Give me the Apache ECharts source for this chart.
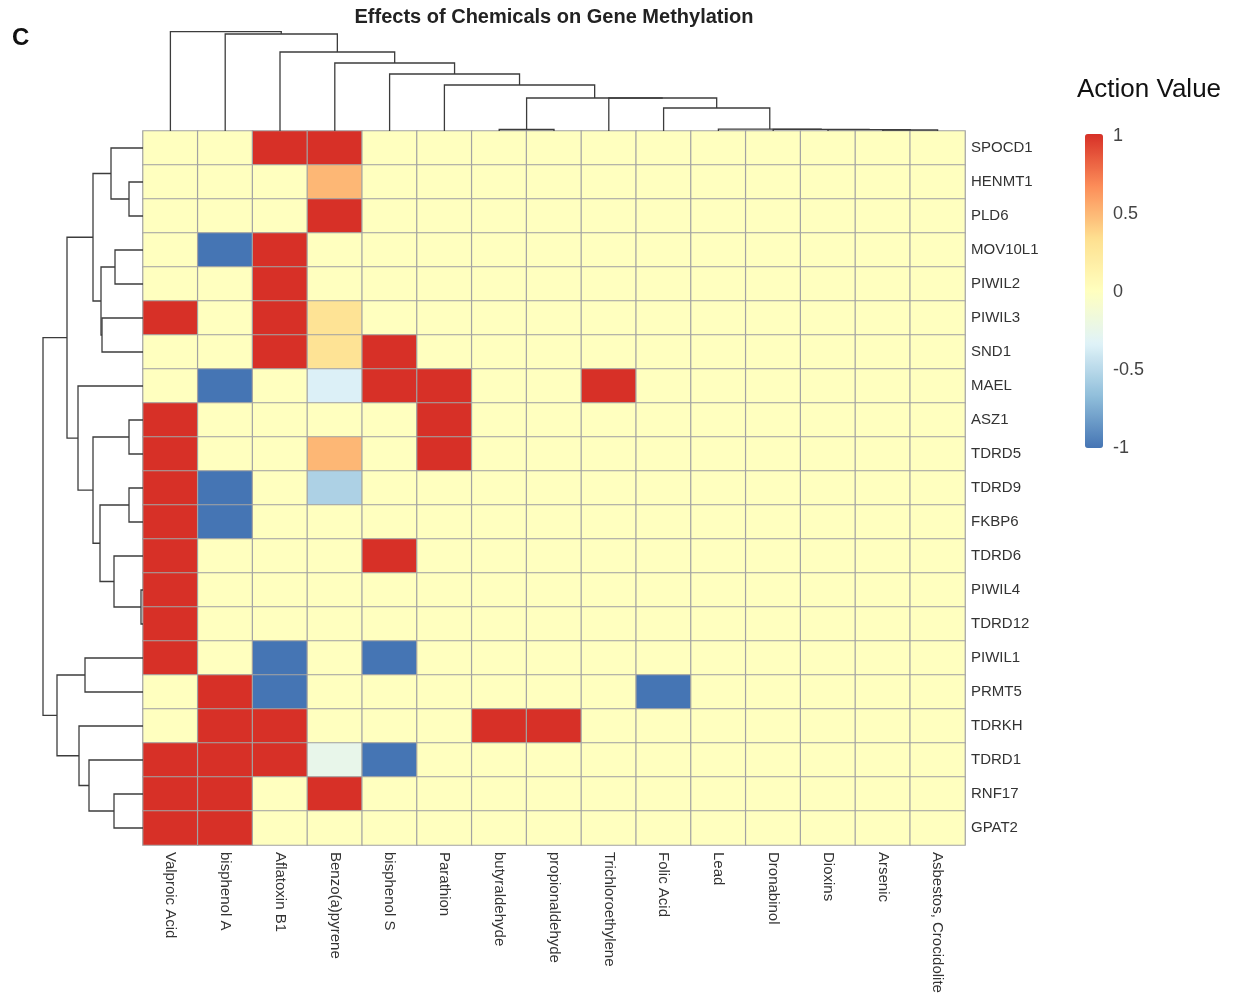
<!DOCTYPE html>
<html>
<head>
<meta charset="utf-8">
<script src="https://cdn.jsdelivr.net/npm/echarts@6/dist/echarts.min.js"></script>
<style>
  html, body { margin: 0; padding: 0; background: #ffffff; }
  #chart { width: 1234px; height: 993px; }
</style>
</head>
<body>
<div id="chart"></div>
<script>
// Chemicals (columns, in dendrogram order)
const chemicals = [
  'Valproic Acid', 'bisphenol A', 'Aflatoxin B1', 'Benzo(a)pyrene', 'bisphenol S',
  'Parathion', 'butyraldehyde', 'propionaldehyde', 'Trichloroethylene', 'Folic Acid',
  'Lead', 'Dronabinol', 'Dioxins', 'Arsenic', 'Asbestos, Crocidolite'
];

// Genes (rows, top to bottom)
const genes = [
  'SPOCD1', 'HENMT1', 'PLD6', 'MOV10L1', 'PIWIL2', 'PIWIL3', 'SND1', 'MAEL',
  'ASZ1', 'TDRD5', 'TDRD9', 'FKBP6', 'TDRD6', 'PIWIL4', 'TDRD12', 'PIWIL1',
  'PRMT5', 'TDRKH', 'TDRD1', 'RNF17', 'GPAT2'
];

// Action value per gene, one entry per chemical in the order above
const actionValues = [
  [0, 0, 1, 1, 0, 0, 0, 0, 0, 0, 0, 0, 0, 0, 0],        // SPOCD1
  [0, 0, 0, 0.5, 0, 0, 0, 0, 0, 0, 0, 0, 0, 0, 0],      // HENMT1
  [0, 0, 0, 1, 0, 0, 0, 0, 0, 0, 0, 0, 0, 0, 0],        // PLD6
  [0, -1, 1, 0, 0, 0, 0, 0, 0, 0, 0, 0, 0, 0, 0],       // MOV10L1
  [0, 0, 1, 0, 0, 0, 0, 0, 0, 0, 0, 0, 0, 0, 0],        // PIWIL2
  [1, 0, 1, 0.3, 0, 0, 0, 0, 0, 0, 0, 0, 0, 0, 0],      // PIWIL3
  [0, 0, 1, 0.3, 1, 0, 0, 0, 0, 0, 0, 0, 0, 0, 0],      // SND1
  [0, -1, 0, -0.35, 1, 1, 0, 0, 1, 0, 0, 0, 0, 0, 0],   // MAEL
  [1, 0, 0, 0, 0, 1, 0, 0, 0, 0, 0, 0, 0, 0, 0],        // ASZ1
  [1, 0, 0, 0.5, 0, 1, 0, 0, 0, 0, 0, 0, 0, 0, 0],      // TDRD5
  [1, -1, 0, -0.55, 0, 0, 0, 0, 0, 0, 0, 0, 0, 0, 0],   // TDRD9
  [1, -1, 0, 0, 0, 0, 0, 0, 0, 0, 0, 0, 0, 0, 0],       // FKBP6
  [1, 0, 0, 0, 1, 0, 0, 0, 0, 0, 0, 0, 0, 0, 0],        // TDRD6
  [1, 0, 0, 0, 0, 0, 0, 0, 0, 0, 0, 0, 0, 0, 0],        // PIWIL4
  [1, 0, 0, 0, 0, 0, 0, 0, 0, 0, 0, 0, 0, 0, 0],        // TDRD12
  [1, 0, -1, 0, -1, 0, 0, 0, 0, 0, 0, 0, 0, 0, 0],      // PIWIL1
  [0, 1, -1, 0, 0, 0, 0, 0, 0, -1, 0, 0, 0, 0, 0],      // PRMT5
  [0, 1, 1, 0, 0, 0, 1, 1, 0, 0, 0, 0, 0, 0, 0],        // TDRKH
  [1, 1, 1, -0.25, -1, 0, 0, 0, 0, 0, 0, 0, 0, 0, 0],   // TDRD1
  [1, 1, 0, 1, 0, 0, 0, 0, 0, 0, 0, 0, 0, 0, 0],        // RNF17
  [1, 1, 0, 0, 0, 0, 0, 0, 0, 0, 0, 0, 0, 0, 0]         // GPAT2
];

// Diverging palette, from -1 (blue) through 0 (pale yellow) to 1 (red)
const palette = ['#4575B4', '#91BFDB', '#E0F3F8', '#FFFFBF', '#FEE090', '#FC8D59', '#D73027'];

// Colour-scale range and tick step
const scaleMin = -1;
const scaleMax = 1;
const scaleStep = 0.5;

// Column clustering (hclust style): leaf i is -(i+1), a positive number refers to an earlier merge (1-based)
const columnMerges = [
  [-14, -15], [-13, 1], [-12, 2], [-11, 3], [-7, -8], [-10, 4], [-9, 6],
  [5, 7], [-6, 8], [-5, 9], [-4, 10], [-3, 11], [-2, 12], [-1, 13]
];
const columnHeights = [1.0, 1.3, 1.6, 1.9, 1.5, 23, 33, 33, 46, 57, 68, 79, 97, 99.3];

// Row clustering, same encoding
const rowMerges = [
  [-14, -15], [-2, -3], [-9, -10], [-11, -12], [-4, -5], [-13, 1], [-20, -21],
  [-1, 2], [-6, -7], [5, 9], [4, 6], [8, 10], [3, 11], [-19, 7], [-16, -17],
  [-18, 14], [-8, 13], [12, 17], [15, 16], [18, 19]
];
const rowHeights = [2, 14, 14, 14, 28, 29, 29, 32, 41, 42, 43, 50, 50, 54, 58, 64, 65, 76, 86, 100];

// Turn a merge list into elbow polylines: [position, height] points
function dendrogramPaths(merges, heights) {
  const centers = [];
  const node = (ref) => ref < 0
    ? { p: -ref - 1 + 0.5, h: 0 }
    : { p: centers[ref - 1], h: heights[ref - 1] };
  return merges.map(([a, b], i) => {
    const A = node(a), B = node(b), h = heights[i];
    centers.push((A.p + B.p) / 2);
    return [[A.p, A.h], [A.p, h], [B.p, h], [B.p, B.h]];
  });
}

const heatData = [];
actionValues.forEach((row, r) => row.forEach((v, c) => heatData.push([c, r, v])));

const colPaths = dendrogramPaths(columnMerges, columnHeights);
const rowPaths = dendrogramPaths(rowMerges, rowHeights).map(path => path.map(([p, h]) => [h, p]));

const FONT = '"Liberation Sans", Arial, Helvetica, sans-serif';
const dendroLine = { color: '#3c3c3c', width: 1.3, opacity: 1 };

const chart = echarts.init(document.getElementById('chart'), null, { renderer: 'canvas' });

chart.setOption({
  backgroundColor: '#ffffff',
  animation: false,
  textStyle: { fontFamily: FONT },
  graphic: [
    {
      type: 'text', left: 12, top: 26,
      style: { text: 'C', font: 'bold 24px ' + FONT, fill: '#111' }
    },
    {
      type: 'text', x: 554, y: 17,
      style: {
        text: 'Effects of Chemicals on Gene Methylation',
        font: 'bold 20px ' + FONT, fill: '#222', textAlign: 'center', textVerticalAlign: 'middle'
      }
    },
    {
      type: 'text', x: 1077, y: 90,
      style: {
        text: 'Action Value', font: '26px ' + FONT, fill: '#111',
        textAlign: 'left', textVerticalAlign: 'middle'
      }
    }
  ],
  grid: [
    { left: 143, top: 131, width: 822, height: 714, outerBoundsMode: 'none' },   // heatmap
    { left: 143, top: 31, width: 822, height: 100, outerBoundsMode: 'none' },    // column dendrogram
    { left: 43, top: 131, width: 100, height: 714, outerBoundsMode: 'none' },    // row dendrogram
    { left: 1085, top: 136, width: 18, height: 312, outerBoundsMode: 'none' }    // colour-scale ticks
  ],
  xAxis: [
    {
      type: 'category', gridIndex: 0, data: chemicals, position: 'bottom',
      axisLine: { show: false }, axisTick: { show: false }, splitLine: { show: false },
      axisLabel: { rotate: -90, interval: 0, margin: 7, fontSize: 15, color: '#333', fontFamily: FONT }
    },
    { type: 'value', gridIndex: 1, min: 0, max: chemicals.length, show: false, splitLine: { show: false } },
    { type: 'value', gridIndex: 2, min: 0, max: 100, inverse: true, show: false, splitLine: { show: false } },
    { type: 'value', gridIndex: 3, min: 0, max: 1, show: false, splitLine: { show: false } }
  ],
  yAxis: [
    {
      type: 'category', gridIndex: 0, data: genes, inverse: true, position: 'right',
      axisLine: { show: false }, axisTick: { show: false }, splitLine: { show: false },
      axisLabel: { interval: 0, margin: 6, fontSize: 15, color: '#333', fontFamily: FONT }
    },
    { type: 'value', gridIndex: 1, min: 0, max: 100, show: false, splitLine: { show: false } },
    { type: 'value', gridIndex: 2, min: 0, max: genes.length, inverse: true, show: false, splitLine: { show: false } },
    {
      type: 'value', gridIndex: 3, min: scaleMin, max: scaleMax, interval: scaleStep, position: 'right',
      axisLine: { show: false }, axisTick: { show: false }, splitLine: { show: false },
      axisLabel: { margin: 10, fontSize: 18, color: '#444', fontFamily: FONT }
    }
  ],
  visualMap: {
    type: 'continuous',
    seriesIndex: 0,
    min: scaleMin,
    max: scaleMax,
    calculable: false,
    hoverLink: false,
    left: 1085,
    top: 134,
    padding: 0,
    itemWidth: 18,
    itemHeight: 314,
    text: null,
    inRange: { color: palette }
  },
  series: [
    {
      type: 'heatmap',
      xAxisIndex: 0,
      yAxisIndex: 0,
      data: heatData,
      itemStyle: { borderColor: '#a2a2a2', borderWidth: 1.2 },
      emphasis: { disabled: true },
      silent: true
    },
    {
      type: 'lines',
      coordinateSystem: 'cartesian2d',
      xAxisIndex: 1,
      yAxisIndex: 1,
      polyline: true,
      silent: true,
      lineStyle: dendroLine,
      data: colPaths.map(coords => ({ coords }))
    },
    {
      type: 'lines',
      coordinateSystem: 'cartesian2d',
      xAxisIndex: 2,
      yAxisIndex: 2,
      polyline: true,
      silent: true,
      lineStyle: dendroLine,
      data: rowPaths.map(coords => ({ coords }))
    },
    {
      type: 'scatter',
      xAxisIndex: 3,
      yAxisIndex: 3,
      data: [],
      silent: true
    }
  ]
});
</script>
</body>
</html>
